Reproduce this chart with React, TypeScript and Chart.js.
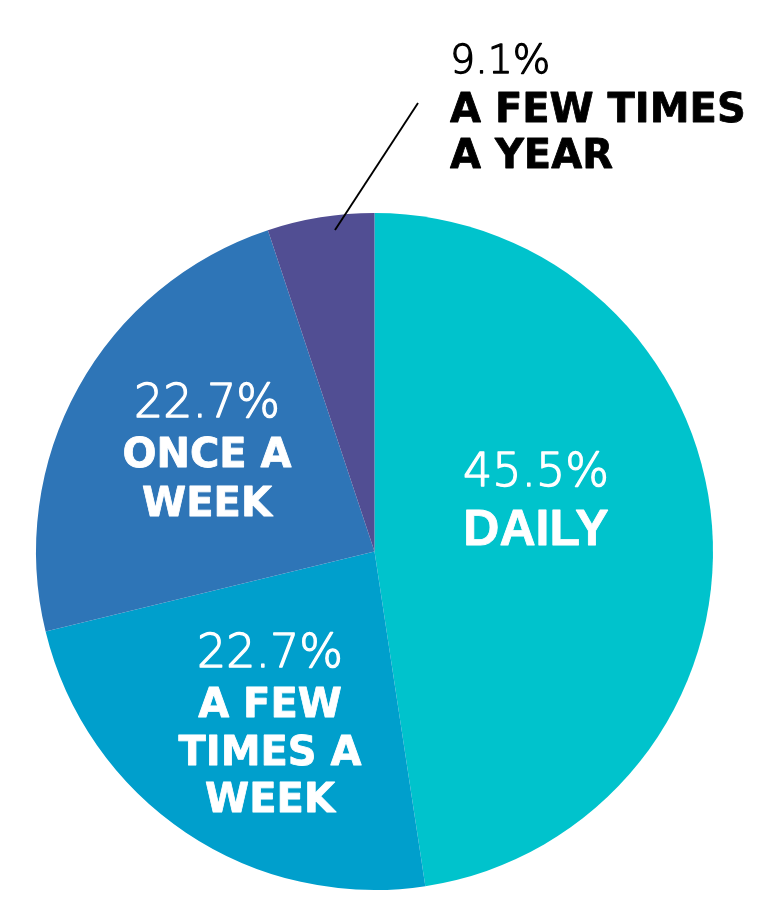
import React, { useEffect, useRef } from "react";
import { Chart, registerables } from "chart.js";

Chart.register(...registerables);

const categories = ["DAILY", "A FEW TIMES A WEEK", "ONCE A WEEK", "A FEW TIMES A YEAR"];
// slice sizes as drawn in the picture (clockwise from 12 o'clock)
const sliceValues = [47.6, 23.6, 23.7, 5.1];
// printed percentages
const percentLabels = ["45.5%", "22.7%", "22.7%", "9.1%"];
const nameLines = [["DAILY"], ["A FEW", "TIMES A", "WEEK"], ["ONCE A", "WEEK"], ["A FEW TIMES", "A YEAR"]];
const sliceColors = ["#00C3CC", "#009FCC", "#2E75B7", "#514E93"];

const NUM_FONT = '"DejaVu Sans ExtraLight", "DejaVu Sans"';
const BOLD_FONT = '"DejaVu Sans"';

// label layout relative to pie centre (px at radius 338.5)
const labelLayout = [
  { x: 161.5, align: "center", color: "#ffffff", numSize: 46, numFamily: NUM_FONT, boldSize: 50, boldFamily: '"Liberation Sans"', baselines: [-65.5, -6.5] },
  { x: -104.5, align: "center", color: "#ffffff", numSize: 46, numFamily: NUM_FONT, boldSize: 40, boldFamily: BOLD_FONT, baselines: [115.5, 165.5, 213.5, 260.5] },
  { x: -167.5, align: "center", color: "#ffffff", numSize: 46, numFamily: NUM_FONT, boldSize: 40, boldFamily: BOLD_FONT, baselines: [-134.5, -84.5, -35.5] },
  { x: 75.5, align: "left", color: "#000000", numSize: 39.5, numFamily: NUM_FONT, boldSize: 40, boldFamily: BOLD_FONT, baselines: [-478.5, -429.5, -383.5] },
];
const leader = { x1: -39.5, y1: -321.5, x2: 43.5, y2: -448.5 };

const labelPlugin = {
  id: "sliceLabels",
  afterDraw(chart: any) {
    const meta = chart.getDatasetMeta(0);
    if (!meta || !meta.data.length) return;
    const arc = meta.data[0];
    const cx = arc.x;
    const cy = arc.y;
    const s = arc.outerRadius / 338.5;
    const ctx = chart.ctx;
    ctx.save();
    // leader line
    ctx.strokeStyle = "#000000";
    ctx.lineWidth = 1.9;
    ctx.beginPath();
    ctx.moveTo(cx + leader.x1 * s, cy + leader.y1 * s);
    ctx.lineTo(cx + leader.x2 * s, cy + leader.y2 * s);
    ctx.stroke();
    labelLayout.forEach((L, i) => {
      ctx.fillStyle = L.color;
      ctx.strokeStyle = L.color;
      ctx.textAlign = L.align;
      ctx.textBaseline = "alphabetic";
      ctx.lineJoin = "round";
      const x = cx + L.x * s;
      ctx.font = `200 ${L.numSize * s}px ${L.numFamily}`;
      ctx.lineWidth = 1.3;
      ctx.fillText(percentLabels[i], x, cy + L.baselines[0] * s);
      ctx.strokeText(percentLabels[i], x, cy + L.baselines[0] * s);
      ctx.font = `bold ${L.boldSize * s}px ${L.boldFamily}`;
      ctx.lineWidth = 0.8;
      nameLines[i].forEach((line, j) => {
        ctx.fillText(line, x, cy + L.baselines[j + 1] * s);
        ctx.strokeText(line, x, cy + L.baselines[j + 1] * s);
      });
    });
    ctx.restore();
  },
};

export default function App() {
  const ref = useRef<HTMLCanvasElement | null>(null);
  useEffect(() => {
    if (!ref.current) return;
    const chart = new Chart(ref.current, {
      type: "pie",
      data: {
        labels: categories,
        datasets: [
          {
            data: sliceValues,
            backgroundColor: sliceColors,
            borderWidth: 0,
          },
        ],
      },
      options: {
        responsive: false,
        animation: false,
        layout: { padding: { left: 36, right: 70, top: 213, bottom: 29 } },
        plugins: {
          legend: { display: false },
          tooltip: { enabled: false },
        },
      },
      plugins: [labelPlugin],
    });
    return () => chart.destroy();
  }, []);
  return (
    <div style={{ position: "fixed", left: 0, top: 0, width: 783, height: 919, background: "#ffffff" }}>
      <canvas ref={ref} width={783} height={919} style={{ display: "block", width: 783, height: 919 }} />
    </div>
  );
}
